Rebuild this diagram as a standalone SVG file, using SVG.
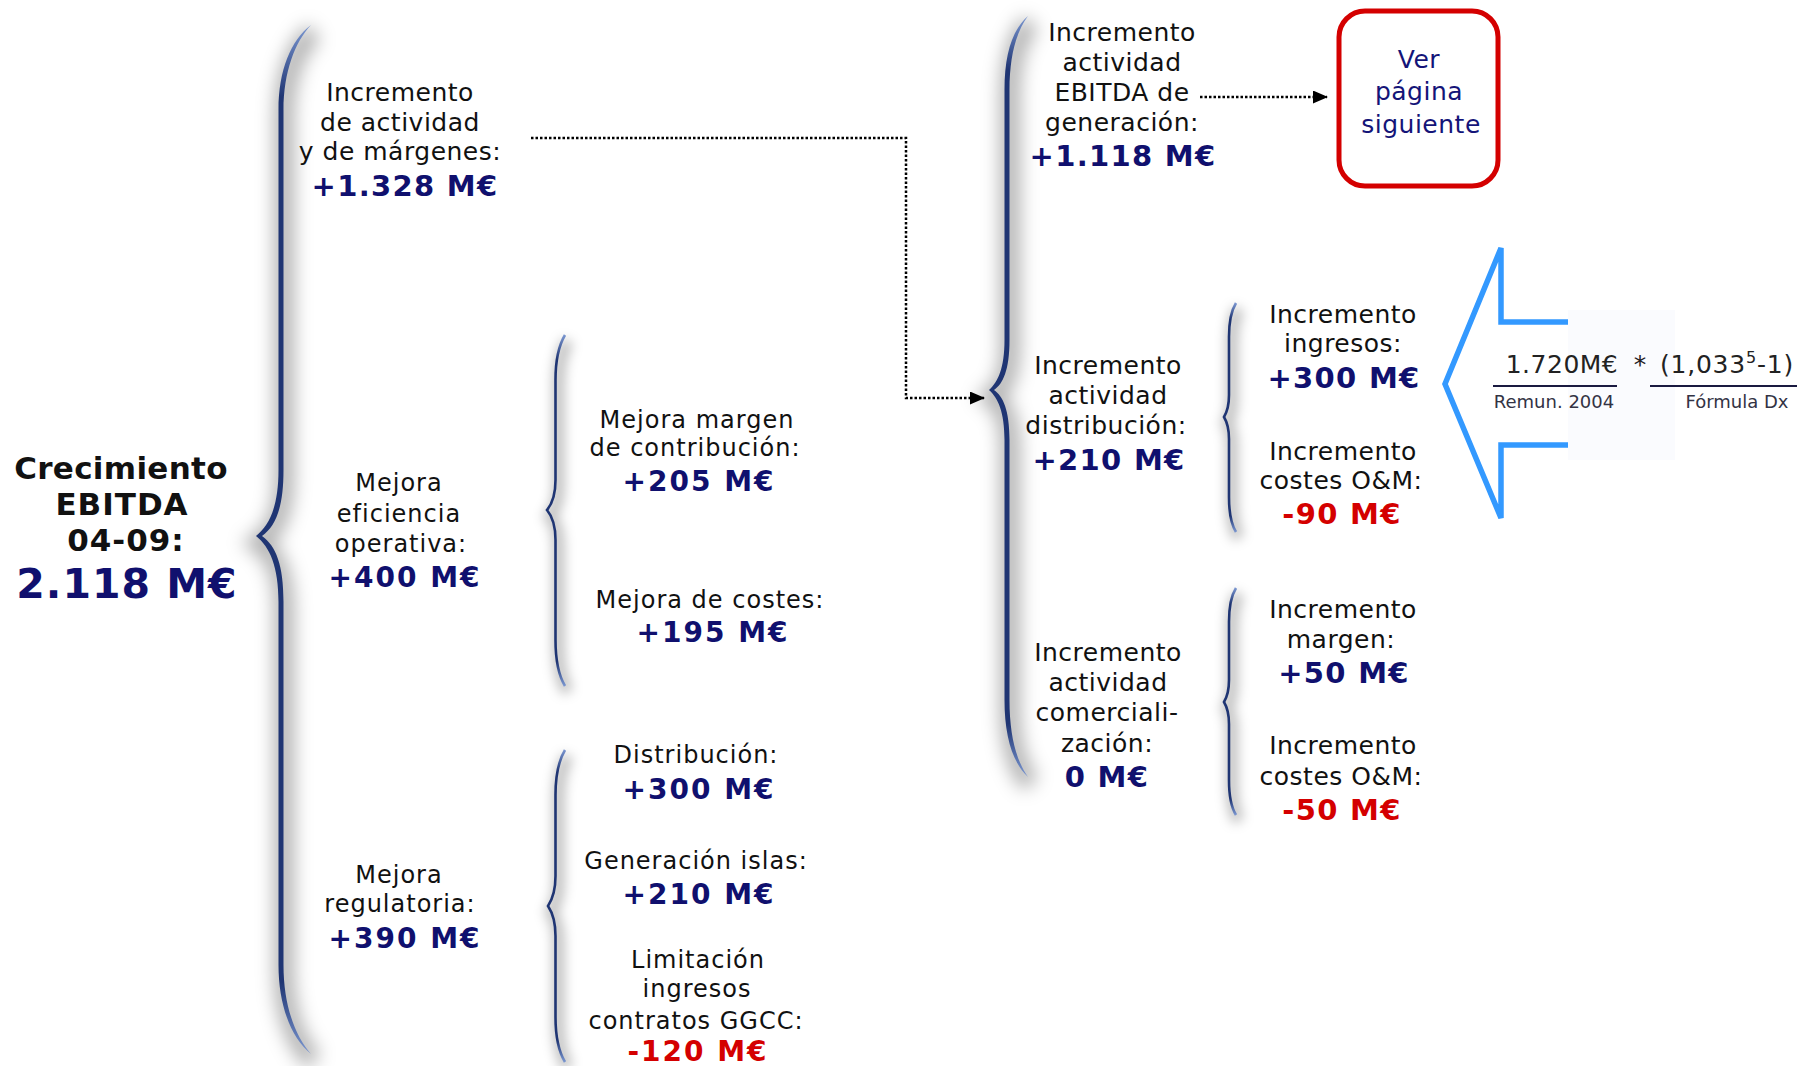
<svg xmlns="http://www.w3.org/2000/svg" width="1801" height="1066" viewBox="0 0 1801 1066">
<style>
text{font-family:'DejaVu Sans',Verdana,sans-serif;text-anchor:middle;fill:#111}
.t{font-size:25px;letter-spacing:0.5px}
.v{font-size:24px;letter-spacing:1px}
.b{font-weight:bold;font-size:29px;letter-spacing:1.3px;fill:#10106E}
.vb{font-weight:bold;font-size:28px;letter-spacing:2px;fill:#10106E}
.red{fill:#D40000}
.nv{fill:#141478}
.f{font-size:25px;fill:#222}
.fs{font-size:18px;fill:#333344}
.brace{fill:url(#bg)}
.thin{fill:none;stroke:url(#bg);stroke-width:2.6}
.shadow{fill:none;stroke:#000;stroke-opacity:0.3;filter:url(#blur)}
.shadow2{fill:none;stroke:#000;stroke-opacity:0.25;filter:url(#blur2)}
.dot{fill:none;stroke:#000;stroke-width:2.5;stroke-dasharray:2.5 2}
</style>
<defs>
<linearGradient id="bg" x1="0" y1="0" x2="0" y2="1">
<stop offset="0" stop-color="#7A96D0"/>
<stop offset="0.07" stop-color="#1F3573"/>
<stop offset="0.93" stop-color="#1F3573"/>
<stop offset="1" stop-color="#7A96D0"/>
</linearGradient>
<filter id="blur" x="-300%" y="-10%" width="700%" height="120%"><feGaussianBlur stdDeviation="9"/></filter>
<filter id="blur2" x="-400%" y="-15%" width="900%" height="130%"><feGaussianBlur stdDeviation="6"/></filter>
<marker id="ah" markerUnits="userSpaceOnUse" markerWidth="15" markerHeight="13" refX="14" refY="6.5" orient="auto"><path d="M0,0 L15,6.5 L0,13 Z" fill="#000"/></marker>
</defs>
<rect width="1801" height="1066" fill="#fff"/>

<!-- braces -->
<g id="braces">
<path class="shadow" stroke-width="20" transform="translate(3,7)" d="M311,25 C293,40 281,70 281,110 L281,470 C281,505 272,525 256,536 C272,547 281,567 281,602 L281,965 C281,1005 293,1038 311,1054"/>
<path class="brace" d="M311,25 C291,40 278.5,70 278.5,110 L278.5,470 C278.5,505 270,525 256,536 C270,547 278.5,567 278.5,602 L278.5,965 C278.5,1005 291,1038 311,1054 C295,1036 283.5,1005 283.5,965 L283.5,602 C283.5,565 276,546 262,536 C276,526 283.5,507 283.5,470 L283.5,110 C283.5,72 295,42 311,25 Z"/>

<path class="shadow" stroke-width="20" transform="translate(3,7)" d="M1028,16 C1014,30 1007,55 1007,90 L1007,340 C1007,368 1000,382 989,390 C1000,398 1007,412 1007,440 L1007,700 C1007,735 1014,762 1028,777"/>
<path class="brace" d="M1028,16 C1012,30 1004.5,55 1004.5,90 L1004.5,340 C1004.5,368 998,382 989,390 C998,398 1004.5,412 1004.5,440 L1004.5,700 C1004.5,735 1012,762 1028,777 C1016,760 1009.5,735 1009.5,700 L1009.5,440 C1009.5,410 1003,396 994,390 C1003,384 1009.5,370 1009.5,340 L1009.5,90 C1009.5,57 1016,32 1028,16 Z"/>

<path class="shadow2" stroke-width="12" transform="translate(3,6)" d="M565,335 C559,345 555.5,360 555.5,380 L555.5,480 C555.5,495 552,504 547,510 C552,516 555.5,525 555.5,540 L555.5,640 C555.5,660 559,676 565,686"/>
<path class="thin" d="M565,335 C559,345 555.5,360 555.5,380 L555.5,480 C555.5,495 552,504 547,510 C552,516 555.5,525 555.5,540 L555.5,640 C555.5,660 559,676 565,686"/>

<path class="shadow2" stroke-width="12" transform="translate(3,6)" d="M565,750 C559,760 555.5,775 555.5,795 L555.5,876 C555.5,891 552,900 548,906 C552,912 555.5,921 555.5,936 L555.5,1017 C555.5,1037 559,1052 565,1062"/>
<path class="thin" d="M565,750 C559,760 555.5,775 555.5,795 L555.5,876 C555.5,891 552,900 548,906 C552,912 555.5,921 555.5,936 L555.5,1017 C555.5,1037 559,1052 565,1062"/>

<path class="shadow2" stroke-width="12" transform="translate(3,6)" d="M1236,303 C1231,311 1229,322 1229,337 L1229,395 C1229,406 1227,412 1224,417 C1227,422 1229,428 1229,439 L1229,497 C1229,512 1231,524 1236,532"/>
<path class="thin" d="M1236,303 C1231,311 1229,322 1229,337 L1229,395 C1229,406 1227,412 1224,417 C1227,422 1229,428 1229,439 L1229,497 C1229,512 1231,524 1236,532"/>

<path class="shadow2" stroke-width="12" transform="translate(3,6)" d="M1236,588 C1231,596 1229,607 1229,622 L1229,680 C1229,691 1227,697 1224,702 C1227,707 1229,713 1229,724 L1229,780 C1229,795 1231,807 1236,815"/>
<path class="thin" d="M1236,588 C1231,596 1229,607 1229,622 L1229,680 C1229,691 1227,697 1224,702 C1227,707 1229,713 1229,724 L1229,780 C1229,795 1231,807 1236,815"/>
</g>

<!-- connectors -->
<g id="connectors">
<polyline class="dot" points="531,138 906,138 906,398 984,398" marker-end="url(#ah)"/>
<line class="dot" x1="1200" y1="97" x2="1327" y2="97" marker-end="url(#ah)"/>
</g>

<g id="n-root">
<text style="font-weight:bold;font-size:31px;letter-spacing:0.3px" x="121" y="479">Crecimiento</text>
<text style="font-weight:bold;font-size:31px;letter-spacing:1px" x="122" y="515">EBITDA</text>
<text style="font-weight:bold;font-size:31px;letter-spacing:1px" x="126" y="551">04-09:</text>
<text style="font-weight:bold;font-size:41px;letter-spacing:1px;fill:#10106E" x="127" y="598">2.118 M€</text>
</g>

<g id="n-actividad">
<text class="t" x="400" y="101">Incremento</text>
<text class="t" x="400" y="131">de actividad</text>
<text class="t" x="400" y="160">y de márgenes:</text>
<text class="b" x="405" y="196">+1.328 M€</text>
</g>

<g id="n-eficiencia">
<text class="v" x="399" y="491">Mejora</text>
<text class="v" x="399" y="522">eficiencia</text>
<text class="v" x="401" y="552">operativa:</text>
<text class="vb" x="405" y="587">+400 M€</text>
</g>

<g id="n-regulatoria">
<text class="v" x="399" y="883">Mejora</text>
<text class="v" x="400" y="912">regulatoria:</text>
<text class="vb" x="405" y="948">+390 M€</text>
</g>

<g id="n-margen">
<text class="v" x="697" y="428">Mejora margen</text>
<text class="v" x="695" y="456">de contribución:</text>
<text class="vb" x="699" y="491">+205 M€</text>
</g>

<g id="n-costes">
<text class="v" x="710" y="608">Mejora de costes:</text>
<text class="vb" x="713" y="642">+195 M€</text>
</g>

<g id="n-distribucion-reg">
<text class="v" x="696" y="763">Distribución:</text>
<text class="vb" x="699" y="799">+300 M€</text>
</g>

<g id="n-islas">
<text class="v" x="696" y="869">Generación islas:</text>
<text class="vb" x="699" y="904">+210 M€</text>
</g>

<g id="n-ggcc">
<text class="v" x="698" y="968">Limitación</text>
<text class="v" x="697" y="997">ingresos</text>
<text class="v" x="696" y="1029">contratos GGCC:</text>
<text class="vb red" x="698" y="1061">-120 M€</text>
</g>

<g id="n-generacion">
<text class="t" x="1122" y="41">Incremento</text>
<text class="t" x="1122" y="71">actividad</text>
<text class="t" x="1122" y="101">EBITDA de</text>
<text class="t" x="1122" y="131">generación:</text>
<text class="b" x="1123" y="166">+1.118 M€</text>
</g>

<g id="n-ver">
<rect x="1339" y="11" width="159" height="175" rx="26" fill="#fff" stroke="#D40000" stroke-width="5"/>
<text class="t nv" x="1419" y="68">Ver</text>
<text class="t nv" x="1419" y="100">página</text>
<text class="t nv" x="1421" y="133">siguiente</text>
</g>

<g id="n-distribucion">
<text class="t" x="1108" y="374">Incremento</text>
<text class="t" x="1108" y="404">actividad</text>
<text class="t" x="1106" y="434">distribución:</text>
<text class="b" x="1109" y="470">+210 M€</text>
</g>

<g id="n-comercial">
<text class="t" x="1108" y="661">Incremento</text>
<text class="t" x="1108" y="691">actividad</text>
<text class="t" x="1107" y="721">comerciali-</text>
<text class="t" x="1107" y="752">zación:</text>
<text class="b" x="1107" y="787">0 M€</text>
</g>

<g id="n-ingresos">
<text class="t" x="1343" y="323">Incremento</text>
<text class="t" x="1343" y="352">ingresos:</text>
<text class="b" x="1344" y="388">+300 M€</text>
</g>

<g id="n-om1">
<text class="t" x="1343" y="460">Incremento</text>
<text class="t" x="1341" y="489">costes O&amp;M:</text>
<text class="b red" x="1342" y="524">-90 M€</text>
</g>

<g id="n-margen2">
<text class="t" x="1343" y="618">Incremento</text>
<text class="t" x="1341" y="648">margen:</text>
<text class="b" x="1344" y="683">+50 M€</text>
</g>

<g id="n-om2">
<text class="t" x="1343" y="754">Incremento</text>
<text class="t" x="1341" y="785">costes O&amp;M:</text>
<text class="b red" x="1342" y="820">-50 M€</text>
</g>

<g id="n-formula">
<rect x="1568" y="310" width="107" height="150" fill="#FAFBFE"/>
<polyline points="1568,322 1501,322 1501,248 1445,384 1501,518 1501,445 1568,445" fill="none" stroke="#3399FF" stroke-width="5.5" stroke-linejoin="miter"/>
<text class="f" x="1562" y="373" style="letter-spacing:0.5px">1.720M€</text>
<text class="f" x="1640" y="373">*</text>
<text class="f" x="1727" y="373" style="letter-spacing:0.8px">(1,033<tspan font-size="16" dy="-10">5</tspan><tspan dy="10">-1)</tspan></text>
<line x1="1493" y1="386" x2="1617" y2="386" stroke="#1a1a40" stroke-width="2"/>
<line x1="1650" y1="386" x2="1797" y2="386" stroke="#1a1a40" stroke-width="2"/>
<text class="fs" x="1554" y="408">Remun. 2004</text>
<text class="fs" x="1737" y="408">Fórmula Dx</text>
</g>
</svg>
